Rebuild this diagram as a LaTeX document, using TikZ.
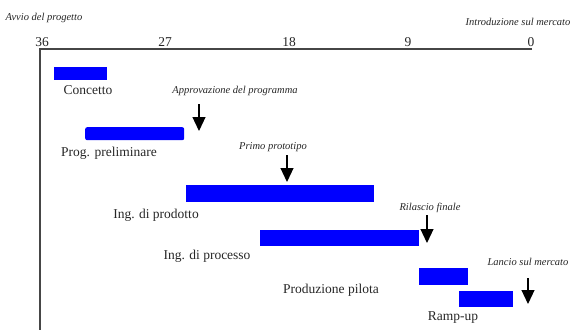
\documentclass[tikz,border=0pt]{standalone}
\usepackage{fontspec}
\setmainfont{Liberation Serif}
\usetikzlibrary{arrows.meta}
\definecolor{barblue}{RGB}{0,0,255}
\definecolor{axisgray}{RGB}{70,70,70}
\tikzset{
  bar/.style={fill=barblue, draw=none, inner sep=0pt, anchor=north west},
  lbl/.style={font=\fontsize{13.5}{15}\selectfont, inner sep=0pt, text=black!85},
  mile/.style={font=\fontsize{10.5}{12}\selectfont\itshape, inner sep=0pt, text=black!85},
  tick/.style={font=\fontsize{13.5}{15}\selectfont, inner sep=0pt, text=black!85},
  axis/.style={draw=axisgray, line width=1.3pt},
  marker/.style={draw=black, line width=1.2pt, -{Triangle[width=13pt,length=14pt]}}
}
\begin{document}
\begin{tikzpicture}[x=1pt,y=-1pt]
\useasboundingbox (0,0) rectangle (573,332);
% axes
\coordinate (o) at (40,49);
\coordinate (xe) at (532,49);
\coordinate (ye) at (40,330);
\draw[axis] (xe) -- (o) -- (ye);
% tick labels
\node[tick] (t36) at (42,42) {36};
\node[tick] (t27) at (165,42) {27};
\node[tick] (t18) at (289,42) {18};
\node[tick] (t9) at (408,42) {9};
\node[tick] (t0) at (531,42) {0};
\node[mile] (avvio) at (44,18) {Avvio del progetto};
\node[mile] (intro) at (518,22) {Introduzione sul mercato};
% bars
\node[bar, minimum width=53pt, minimum height=13pt] (b1) at (54,67) {};
\node[bar, minimum width=99pt, minimum height=13pt, rounded corners=2pt] (b2) at (85,127) {};
\node[bar, minimum width=188pt, minimum height=17pt] (b3) at (186,185) {};
\node[bar, minimum width=159pt, minimum height=16pt] (b4) at (260,230) {};
\node[bar, minimum width=49pt, minimum height=17pt] (b5) at (419,268) {};
\node[bar, minimum width=54pt, minimum height=16pt] (b6) at (459,291) {};
% bar labels
\node[lbl] (l1) at (88,90) {Concetto};
\node[lbl] (l2) at (109,153) {Prog. preliminare};
\node[lbl] (l3) at (156,215) {Ing. di prodotto};
\node[lbl] (l4) at (207,256) {Ing. di processo};
\node[lbl] (l5) at (331,290) {Produzione pilota};
\node[lbl] (l6) at (453,318) {Ramp-up};
% milestones
\node[mile] (m1) at (235,91) {Approvazione del programma};
\node[mile] (m2) at (273,147) {Primo prototipo};
\node[mile] (m3) at (430,208) {Rilascio finale};
\node[mile] (m4) at (528,262) {Lancio sul mercato};
\coordinate (a1s) at (199,104); \coordinate (a1e) at (199,131);
\coordinate (a2s) at (287,155); \coordinate (a2e) at (287,182);
\coordinate (a3s) at (427,215); \coordinate (a3e) at (427,243);
\coordinate (a4s) at (528,278); \coordinate (a4e) at (528,304);
\draw[marker] (a1s) -- (a1e);
\draw[marker] (a2s) -- (a2e);
\draw[marker] (a3s) -- (a3e);
\draw[marker] (a4s) -- (a4e);
\end{tikzpicture}
\end{document}
